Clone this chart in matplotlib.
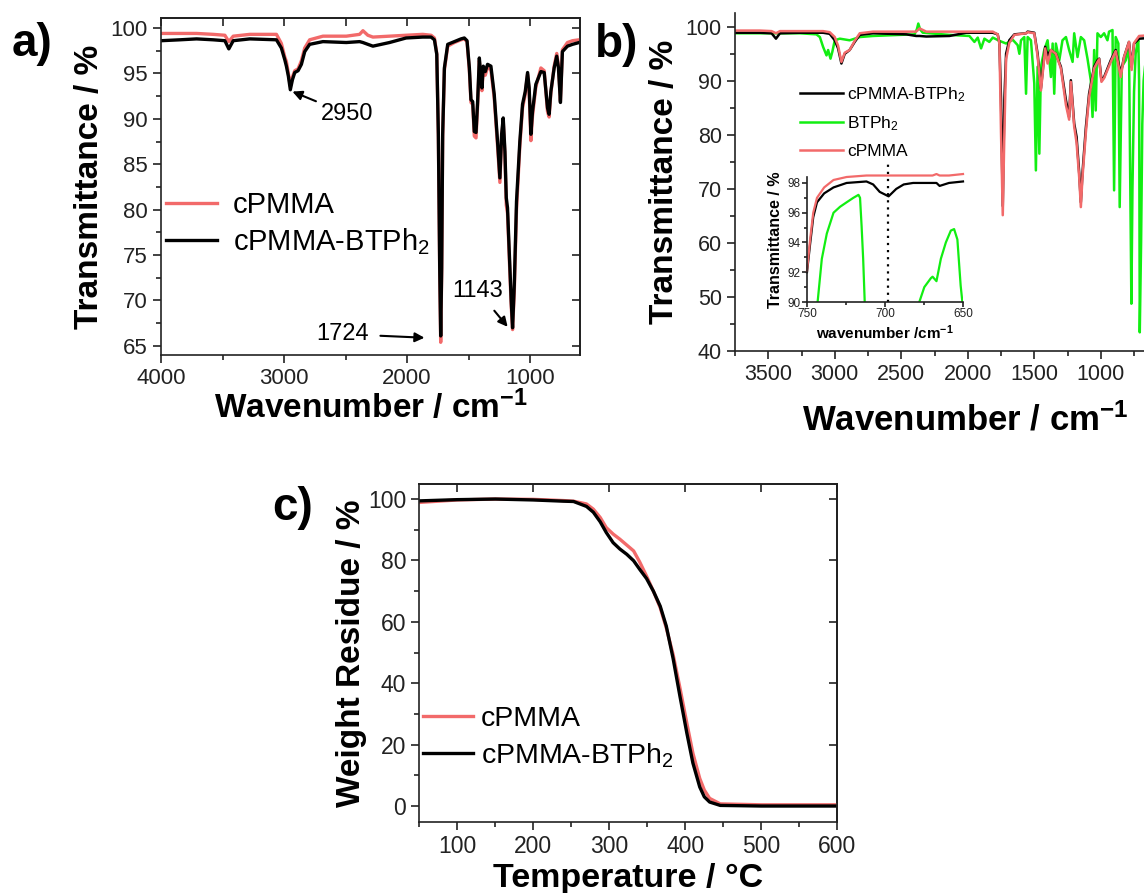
import matplotlib
matplotlib.use("Agg")
import matplotlib.pyplot as plt
from matplotlib.ticker import MultipleLocator

plt.rcParams["font.family"] = ["Liberation Sans", "DejaVu Sans"]
plt.rcParams["mathtext.fontset"] = "custom"
plt.rcParams["mathtext.rm"] = "Liberation Sans"
plt.rcParams["mathtext.it"] = "Liberation Sans:italic"
plt.rcParams["mathtext.bf"] = "Liberation Sans:bold"

RED = "#f26a6a"
GREEN = "#12ee12"

# ---- panel a: FTIR, cPMMA vs cPMMA-BTPh2 ----
wn_a = [4000, 3846, 3711, 3576, 3481, 3449, 3413, 3278, 3062, 3022, 2994, 2981, 2965,
        2949, 2932, 2913, 2886, 2859, 2832, 2792, 2684, 2494, 2386, 2359, 2319, 2278,
        2143, 2008, 1873, 1805, 1778, 1759, 1746, 1735, 1727, 1719, 1711, 1697, 1670,
        1616, 1562, 1535, 1513, 1494, 1481, 1467, 1454, 1440, 1427, 1413, 1400, 1392,
        1381, 1365, 1346, 1319, 1292, 1265, 1246, 1232, 1219, 1205, 1194, 1184, 1170,
        1154, 1143, 1129, 1111, 1084, 1062, 1040, 1021, 1008, 994, 981, 954, 913, 886,
        859, 846, 832, 805, 784, 770, 754, 738, 697, 656, 602]
t_a_btph2 = [98.6, 98.7, 98.8, 98.7, 98.6, 97.7, 98.6, 98.8, 98.7, 97.8, 96.5, 95.8, 94.7,
             93.2, 94.3, 95.1, 95.3, 96.0, 97.4, 98.2, 98.5, 98.4, 98.5, 98.4, 98.2, 98.0,
             98.4, 98.9, 99.0, 99.0, 98.7, 97.1, 88.3, 73.6, 66.1, 73.6, 88.3, 95.6, 98.2,
             98.5, 98.8, 98.9, 98.6, 95.6, 92.1, 91.9, 88.6, 88.5, 91.9, 96.7, 94.5, 93.4,
             95.8, 95.2, 96.0, 95.8, 92.7, 87.5, 83.5, 88.3, 90.1, 86.4, 81.3, 80.2, 75.4,
             70.0, 67.0, 71.7, 80.9, 87.5, 91.6, 93.0, 95.1, 93.4, 88.3, 90.8, 93.8, 95.2,
             95.1, 91.2, 90.5, 93.0, 95.6, 96.9, 95.6, 91.8, 97.4, 98.0, 98.2, 98.4]
t_a_cpmma = [99.4, 99.4, 99.4, 99.3, 99.2, 98.5, 99.1, 99.3, 99.3, 98.3, 96.8, 96.3, 95.0,
             93.6, 94.6, 95.3, 95.5, 96.4, 97.8, 98.7, 99.1, 99.1, 99.3, 99.7, 99.2, 99.0,
             99.1, 99.2, 99.3, 99.2, 98.9, 97.2, 88.0, 73.0, 65.4, 73.0, 88.0, 95.4, 98.0,
             98.4, 98.7, 98.8, 98.5, 95.3, 91.8, 91.6, 88.1, 87.9, 91.5, 96.4, 94.2, 93.1,
             95.5, 94.8, 95.7, 95.4, 92.3, 87.0, 83.0, 88.0, 89.8, 86.0, 80.5, 79.6, 74.8,
             69.4, 66.8, 71.0, 80.0, 87.0, 91.2, 92.7, 94.9, 93.0, 87.6, 90.3, 93.5, 95.6,
             95.3, 90.8, 90.2, 92.8, 95.8, 97.2, 95.8, 92.0, 97.6, 98.4, 98.6, 98.7]

# ---- panel b: FTIR with BTPh2 ----
wn_b = [3750, 3562, 3475, 3442, 3412, 3262, 3088, 3038, 3000, 2975, 2950, 2925, 2888,
        2850, 2812, 2712, 2462, 2388, 2362, 2312, 2138, 2012, 1812, 1775, 1762, 1750,
        1737, 1725, 1712, 1688, 1650, 1562, 1550, 1500, 1475, 1450, 1432, 1418, 1400,
        1375, 1338, 1300, 1262, 1238, 1225, 1200, 1182, 1162, 1150, 1138, 1112, 1088,
        1050, 1025, 1012, 995, 975, 925, 888, 850, 825, 788, 768, 750, 712, 650]
t_b_btph2 = [98.9, 98.9, 98.8, 97.8, 98.8, 98.9, 98.9, 98.7, 97.5, 96.0, 93.2, 95.0, 95.7,
             97.2, 98.5, 98.8, 98.6, 98.3, 98.3, 98.2, 98.3, 98.9, 98.9, 98.6, 97.0, 86.4,
             66.8, 86.4, 95.0, 97.5, 98.6, 98.8, 99.1, 98.9, 95.0, 88.6, 93.0, 96.3, 94.7,
             95.7, 95.0, 92.6, 86.4, 83.3, 90.1, 82.1, 79.6, 72.8, 67.5, 72.8, 81.4, 87.6,
             92.6, 93.8, 94.1, 90.1, 90.7, 93.8, 95.7, 91.3, 94.4, 97.2, 92.6, 96.9, 97.8, 97.9]
t_b_cpmma = [99.3, 99.3, 99.2, 98.8, 99.2, 99.2, 99.2, 99.0, 98.1, 96.5, 93.5, 95.2, 95.7,
             97.4, 98.8, 99.1, 99.1, 99.1, 99.7, 99.1, 99.1, 99.1, 99.1, 98.6, 96.8, 80.2,
             65.1, 80.2, 94.0, 97.0, 98.5, 98.8, 99.0, 98.8, 94.5, 88.2, 92.5, 96.0, 93.2,
             95.7, 95.0, 92.3, 85.5, 82.8, 89.8, 81.5, 78.5, 72.0, 66.6, 72.0, 80.5, 87.0,
             92.3, 93.5, 94.0, 89.8, 90.5, 93.5, 95.5, 90.7, 94.4, 97.2, 92.0, 97.0, 98.3, 98.4]
wn_green = [3750, 3512, 3262, 3138, 3112, 3088, 3062, 3050, 3032, 3018, 3000, 2962, 2888,
            2812, 2712, 2512, 2400, 2382, 2372, 2358, 2338, 2138, 1988, 1950, 1925, 1900,
            1875, 1838, 1812, 1762, 1712, 1662, 1625, 1612, 1600, 1575, 1562, 1550, 1525,
            1500, 1488, 1475, 1462, 1450, 1425, 1400, 1375, 1362, 1350, 1338, 1312, 1288,
            1262, 1238, 1212, 1200, 1175, 1150, 1125, 1100, 1075, 1062, 1050, 1038, 1025,
            1000, 975, 950, 938, 912, 900, 888, 868, 858, 842, 812, 788, 770, 762, 750,
            738, 725, 718, 712, 707, 697, 688, 678, 662, 650]
t_green = [98.8, 98.8, 98.8, 98.6, 98.1, 96.3, 94.7, 95.7, 94.1, 95.4, 97.5, 97.8, 97.5,
           98.1, 98.3, 98.5, 98.6, 99.6, 100.6, 99.5, 98.9, 98.5, 98.3, 97.2, 98.0, 96.0,
           97.8, 97.2, 98.0, 97.4, 96.9, 97.6, 96.6, 95.0, 97.5, 98.1, 87.6, 98.1, 97.5,
           89.5, 73.4, 92.6, 76.5, 92.6, 95.7, 97.5, 90.7, 96.9, 87.6, 96.9, 93.8, 97.5,
           98.1, 95.7, 93.5, 98.8, 94.4, 98.1, 97.5, 94.1, 90.1, 83.3, 95.7, 84.5, 98.8,
           98.1, 98.8, 97.5, 99.1, 99.4, 69.7, 98.1, 96.9, 66.6, 92.6, 93.8, 96.3, 48.7,
           70.0, 88.0, 95.0, 96.9, 97.5, 90.0, 43.4, 60.0, 82.0, 90.0, 94.0, 91.0]

# inset (750-650 cm-1)
wn_in = [750, 748, 746, 743.6, 739, 733, 724.6, 711.9, 707.6, 703.4, 697.7, 692.8, 688,
         682, 669.5, 667, 665, 659, 650]
t_in_btph2 = [92.0, 93.9, 95.7, 96.7, 97.3, 97.7, 98.0, 98.1, 97.9, 97.4, 97.1, 97.6, 97.9,
              98.0, 98.0, 98.0, 97.8, 98.0, 98.1]
t_in_cpmma = [92.1, 94.2, 96.0, 97.0, 97.7, 98.2, 98.4, 98.5, 98.5, 98.5, 98.5, 98.5, 98.5,
              98.5, 98.5, 98.6, 98.5, 98.5, 98.6]
wn_in_green = [745, 743.2, 740.5, 737.3, 733, 728.8, 724.6, 720.3, 717, 716, 715, 714, 713,
               711, 700, 680, 678, 674.8, 670.6, 669.5, 667, 664.2, 661, 657.8, 655.7,
               653.6, 651.5, 650.4, 649]
t_in_green = [87.0, 90.0, 92.9, 94.6, 96.0, 96.4, 96.7, 97.0, 97.2, 97.0, 95.1, 92.9, 90.0,
              85.0, 60.0, 88.0, 90.0, 91.0, 91.6, 91.7, 91.4, 92.9, 94.0, 94.8, 94.9,
              94.2, 91.1, 90.0, 88.0]
marker_wn = 698

# ---- panel c: TGA ----
temp = [50, 100, 150, 200, 240, 253, 270, 279, 288, 296, 305, 314, 323, 332, 340, 349,
        358, 367, 375, 384, 393, 402, 410, 419, 425, 432, 446, 500, 600]
wr_cpmma = [98.9, 99.7, 100.0, 99.9, 99.5, 99.3, 98.4, 96.7, 94.0, 90.7, 88.6, 86.9, 85.0,
            83.1, 79.5, 74.9, 70.0, 64.6, 58.0, 49.3, 38.4, 27.0, 17.2, 9.0, 5.2, 2.5, 0.7,
            0.4, 0.4]
wr_btph2 = [99.4, 99.8, 100.0, 99.7, 99.3, 99.2, 97.6, 95.7, 92.6, 89.1, 85.8, 83.7, 82.0,
            79.9, 77.1, 74.1, 70.0, 65.1, 58.6, 48.0, 35.7, 23.8, 14.0, 6.2, 3.0, 1.3, 0.2,
            0.0, 0.0]

W, H = 1144, 893


def rect(x0, y0, x1, y1):
    # pixel box (top-left origin) -> figure fraction
    return [x0 / W, 1 - y1 / H, (x1 - x0) / W, (y1 - y0) / H]


def style(ax, boxed=True):
    for s in ax.spines.values():
        s.set_linewidth(1.2)
        s.set_color("#222222")
    ax.tick_params(which="both", direction="out", width=1.2, colors="#222222",
                   top=False, right=False)
    ax.tick_params(which="major", length=6)
    ax.tick_params(which="minor", length=3.5)
    if boxed:
        # origin-style box: inward ticks on top/right, no labels
        for sec in (ax.secondary_xaxis("top"), ax.secondary_yaxis("right")):
            sec.tick_params(which="both", direction="in", width=1.2, colors="#222222",
                            labeltop=False, labelright=False)
            sec.tick_params(which="major", length=6)
            sec.tick_params(which="minor", length=3.5)
            sec.spines[:].set_linewidth(1.2)
        return
    ax.spines["top"].set_visible(False)
    ax.spines["right"].set_visible(False)


fig = plt.figure(figsize=(W / 100, H / 100), dpi=100)

# ---------- a ----------
ax = fig.add_axes(rect(161, 18, 580, 355))
ax.plot(wn_a, t_a_cpmma, color=RED, lw=2.4, label="cPMMA")
ax.plot(wn_a, t_a_btph2, color="black", lw=2.4, label="cPMMA-BTPh$_2$")
ax.set_xlim(4000, 595)
ax.set_ylim(64.0, 101.1)
ax.xaxis.set_major_locator(MultipleLocator(1000))
ax.xaxis.set_minor_locator(MultipleLocator(500))
ax.yaxis.set_major_locator(MultipleLocator(5))
ax.yaxis.set_minor_locator(MultipleLocator(2.5))
ax.tick_params(labelsize=16)
style(ax)
ax.set_xlabel("Wavenumber / cm$^{\\mathbf{-1}}$", fontsize=24, fontweight="bold", labelpad=0)
ax.set_ylabel("Transmittance / %", fontsize=24, fontweight="bold", labelpad=4)
ax.legend(loc="upper left", bbox_to_anchor=(166 / W, 1 - 191 / H),
          bbox_transform=fig.transFigure, frameon=False, fontsize=21,
          handlelength=1.75, handletextpad=0.55, labelspacing=0.25,
          borderpad=0, borderaxespad=0)
ax.annotate("2950", xy=(2932, 93.0), xytext=(2484, 90.5), fontsize=17,
            ha="center", va="center",
            arrowprops=dict(arrowstyle="-|>", color="black", lw=1.5, shrinkA=2, shrinkB=0,
                            mutation_scale=14))
ax.annotate("1724", xy=(1859, 65.9), xytext=(2521, 66.3), fontsize=17,
            ha="center", va="center",
            arrowprops=dict(arrowstyle="-|>", color="black", lw=1.5, shrinkA=6, shrinkB=0,
                            mutation_scale=14))
ax.annotate("1143", xy=(1183, 67.1), xytext=(1427, 71.1), fontsize=17,
            ha="center", va="center",
            arrowprops=dict(arrowstyle="-|>", color="black", lw=1.5, shrinkA=6, shrinkB=0,
                            mutation_scale=14))

# ---------- b ----------
ax = fig.add_axes(rect(735, 13.3, 1154, 350.7))
ax.plot(wn_green, t_green, color=GREEN, lw=1.8, label="BTPh$_2$")
ax.plot(wn_b, t_b_btph2, color="black", lw=1.8, label="cPMMA-BTPh$_2$")
ax.plot(wn_b, t_b_cpmma, color=RED, lw=1.8, label="cPMMA")
ax.set_xlim(3750, 600)
ax.set_ylim(40, 102.5)
ax.xaxis.set_major_locator(MultipleLocator(500))
ax.xaxis.set_minor_locator(MultipleLocator(250))
ax.yaxis.set_major_locator(MultipleLocator(10))
ax.yaxis.set_minor_locator(MultipleLocator(5))
ax.tick_params(labelsize=15.5)
style(ax, boxed=False)
ax.set_xlabel("Wavenumber / cm$^{\\mathbf{-1}}$", fontsize=25, fontweight="bold")
ax.xaxis.set_label_coords((965 - 735) / 419, -0.155)
ax.set_ylabel("Transmittance / %", fontsize=24, fontweight="bold", labelpad=4)
h, l = ax.get_legend_handles_labels()
ax.legend([h[1], h[0], h[2]], [l[1], l[0], l[2]], loc="upper left",
          bbox_to_anchor=(800 / W, 1 - 85 / H), bbox_transform=fig.transFigure,
          frameon=False, fontsize=12.5, handlelength=2.45, handletextpad=0.25,
          labelspacing=0.62, borderpad=0, borderaxespad=0)

# inset
ax = fig.add_axes(rect(807, 177, 963, 302))
ax.plot(wn_in_green, t_in_green, color=GREEN, lw=1.6)
ax.plot(wn_in, t_in_btph2, color="black", lw=1.6, clip_on=False)
ax.plot(wn_in, t_in_cpmma, color=RED, lw=1.6, clip_on=False)
ax.vlines(marker_wn, 90, 99.5, colors="black", linestyles=(0, (1, 2.2)), lw=1.6,
          clip_on=False)
ax.set_xlim(750, 650)
ax.set_ylim(90, 98.4)
ax.xaxis.set_major_locator(MultipleLocator(50))
ax.xaxis.set_minor_locator(MultipleLocator(25))
ax.yaxis.set_major_locator(MultipleLocator(2))
ax.yaxis.set_minor_locator(MultipleLocator(1))
style(ax, boxed=False)
ax.tick_params(which="major", length=3.5, labelsize=8.5, pad=1)
ax.tick_params(which="minor", length=2)
ax.set_xlabel("wavenumber /cm$^{\\mathbf{-1}}$", fontsize=11, fontweight="bold", labelpad=2)
ax.set_ylabel("Transmittance / %", fontsize=11.5, fontweight="bold", labelpad=3)

# ---------- c ----------
ax = fig.add_axes(rect(419.3, 484, 837.3, 822.3))
ax.plot(temp, wr_cpmma, color=RED, lw=2.4, label="cPMMA")
ax.plot(temp, wr_btph2, color="black", lw=2.4, label="cPMMA-BTPh$_2$")
ax.set_xlim(50, 600)
ax.set_ylim(-5.3, 104.9)
ax.xaxis.set_major_locator(MultipleLocator(100))
ax.xaxis.set_minor_locator(MultipleLocator(50))
ax.yaxis.set_major_locator(MultipleLocator(20))
ax.yaxis.set_minor_locator(MultipleLocator(10))
ax.tick_params(labelsize=16.5)
style(ax)
ax.set_xlabel("Temperature / °C", fontsize=24.5, fontweight="bold", labelpad=3)
ax.set_ylabel("Weight Residue / %", fontsize=24, fontweight="bold", labelpad=0.5)
ax.legend(loc="upper left", bbox_to_anchor=(422.7 / W, 1 - 706 / H),
          bbox_transform=fig.transFigure, frameon=False, fontsize=20.5,
          handlelength=1.78, handletextpad=0.26, labelspacing=0.32,
          borderpad=0, borderaxespad=0)

# panel letters
fig.text(12 / W, 1 - 56 / H, "a)", fontsize=33, fontweight="bold", va="baseline")
fig.text(595 / W, 1 - 57 / H, "b)", fontsize=33, fontweight="bold", va="baseline")
fig.text(272 / W, 1 - 520 / H, "c)", fontsize=33, fontweight="bold", va="baseline")

fig.savefig("out.png", dpi=100)
